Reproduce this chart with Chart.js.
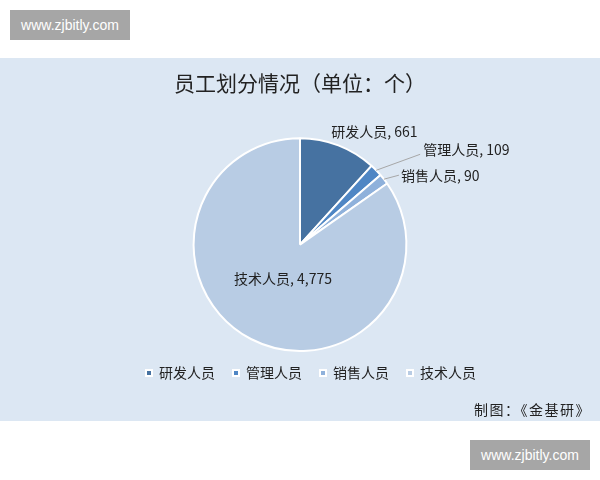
<!DOCTYPE html>
<html>
<head>
<meta charset="utf-8">
<script src="https://cdn.jsdelivr.net/npm/chart.js@4.4.1/dist/chart.umd.min.js"></script>
<style>
  html, body { margin: 0; padding: 0; background: #fff; }
  body { width: 600px; height: 480px; position: relative; overflow: hidden;
         font-family: "Noto Sans CJK SC", "Noto Sans", sans-serif; }
  .mark { position: absolute; width: 120px; height: 30px; background: #a6a6a6; color: #fff;
          font: 14px "Liberation Sans", Arial, sans-serif; line-height: 30px; text-align: center; }
  #panel { position: absolute; left: 0; top: 58px; width: 600px; height: 363px; background: #dce7f3; }
  #source { position: absolute; left: 474px; top: 399px; font-size: 14px; letter-spacing: 1.5px;
            color: #222; white-space: nowrap; }
</style>
</head>
<body>
<div class="mark" style="left:10px;top:10px;">www.zjbitly.com</div>
<div id="panel"><canvas id="pie"></canvas></div>
<div id="source">制图：《金基研》</div>
<div class="mark" style="left:470px;top:440px;">www.zjbitly.com</div>
<script>
// 数据
var categories = ['研发人员', '管理人员', '销售人员', '技术人员'];
var counts = [661, 109, 90, 4775];
var sliceColors = ['#4672a1', '#4f86c4', '#8fb1db', '#b8cce4'];

// 引导线终点相对扇区外缘点的偏移（null 表示无引导线）
var labelLeaders = [null, [44, -16], [15, -4], null];

var pieLabels = {
    id: 'pieLabels',
    afterLayout: function (chart) {
        // 图例整体稍向右上移
        var lg = chart.legend;
        lg.left += 11; lg.right += 11;
        lg.top -= 4; lg.bottom -= 4;
    },
    afterDatasetsDraw: function (chart) {
        var ctx = chart.ctx;
        var arcs = chart.getDatasetMeta(0).data;
        ctx.save();
        ctx.font = '14px "Noto Sans CJK SC", sans-serif';
        ctx.fillStyle = '#222';
        ctx.textBaseline = 'middle';
        arcs.forEach(function (arc, i) {
            var text = categories[i] + ', ' + counts[i].toLocaleString('en-US');
            var mid = (arc.startAngle + arc.endAngle) / 2;
            var ex = arc.x + Math.cos(mid) * arc.outerRadius;
            var ey = arc.y + Math.sin(mid) * arc.outerRadius;
            if (i === 3) {
                ctx.textAlign = 'center';
                ctx.fillText(text, arc.x - 17, arc.y + 34);
            } else if (labelLeaders[i] === null) {
                ctx.textAlign = 'center';
                ctx.fillText(text, ex + 36, ey - 14);
            } else {
                var lx = ex + labelLeaders[i][0];
                var ly = ey + labelLeaders[i][1];
                ctx.strokeStyle = '#a6a6a6';
                ctx.lineWidth = 1;
                ctx.beginPath();
                ctx.moveTo(ex, ey);
                ctx.lineTo(lx, ly);
                ctx.stroke();
                ctx.textAlign = 'left';
                if (i === 1) {
                    ctx.fillText(text, lx + 3, ly - 5);
                } else {
                    ctx.fillText(text, lx + 2, ly);
                }
            }
        });
        ctx.restore();
    }
};

new Chart(document.getElementById('pie').getContext('2d'), {
    type: 'pie',
    data: {
        labels: categories,
        datasets: [{
            data: counts,
            backgroundColor: sliceColors,
            borderColor: '#ffffff',
            borderWidth: 2
        }]
    },
    options: {
        responsive: true,
        maintainAspectRatio: false,
        animation: false,
        layout: {padding: {bottom: 27}},
        plugins: {
            title: {
                display: true,
                text: '员工划分情况（单位：个）',
                color: '#222',
                font: {family: '"Noto Sans CJK SC", sans-serif', size: 21, weight: 'normal'},
                padding: {top: 12, bottom: 42}
            },
            legend: {
                position: 'bottom',
                labels: {
                    boxWidth: 6,
                    boxHeight: 6,
                    padding: 18,
                    color: '#222',
                    font: {family: '"Noto Sans CJK SC", sans-serif', size: 14}
                }
            },
            tooltip: {enabled: false}
        }
    },
    plugins: [pieLabels]
});
</script>
</body>
</html>
